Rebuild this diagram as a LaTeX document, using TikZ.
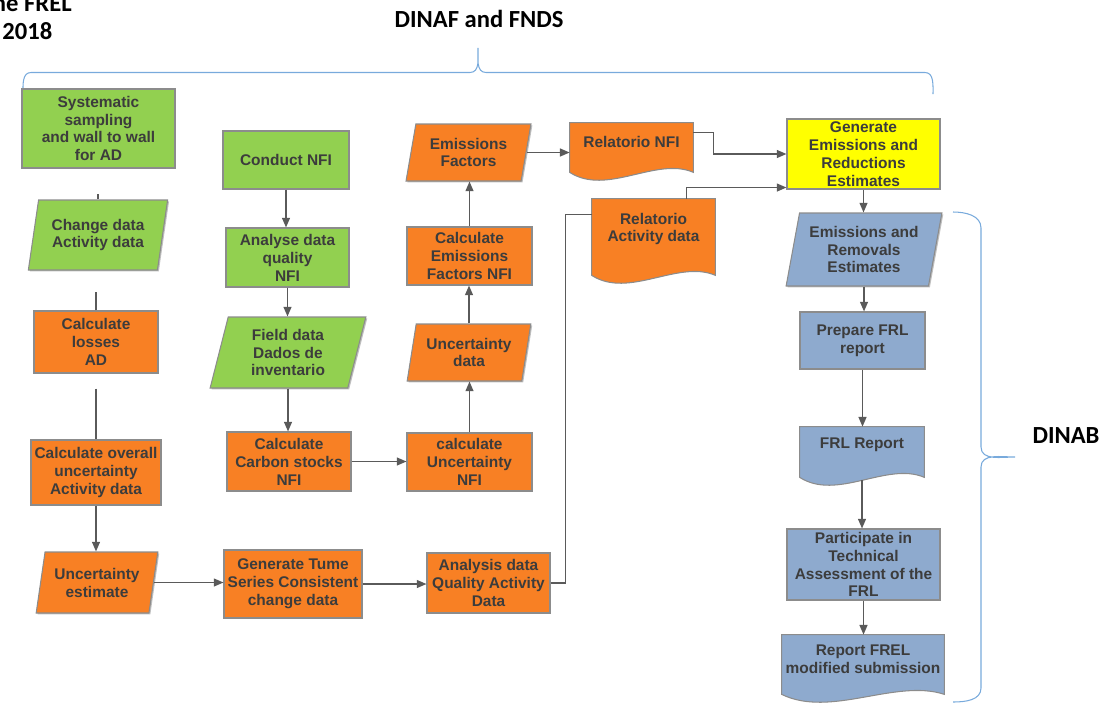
\documentclass[tikz,border=0pt]{standalone}
\usepackage{fontspec}
\setmainfont{Liberation Sans}
\newfontfamily\headfont{Carlito}
\usepackage{tikz}
\usetikzlibrary{shapes.geometric}
\usetikzlibrary{arrows.meta}
\usetikzlibrary{calc}
\usetikzlibrary{shadows}
\usetikzlibrary{backgrounds}
\definecolor{frgreen}{RGB}{146,208,80}
\definecolor{frorange}{RGB}{248,128,36}
\definecolor{fryellow}{RGB}{255,255,0}
\definecolor{frblue}{RGB}{142,170,206}
\definecolor{boxgray}{RGB}{140,140,140}
\definecolor{linegray}{RGB}{90,90,90}
\definecolor{txtgray}{RGB}{60,60,60}
\definecolor{bracblue}{RGB}{120,170,220}
\newcommand{\flowfont}{\fontsize{8.8}{10.2}\selectfont\bfseries}
\newcommand{\docshape}[3]{\filldraw[boxline,fill=#2] (#1.north west) -- (#1.north east) -- ($(#1.south east)+(0,#3)$) .. controls ($(#1.south east)!0.3!(#1.south west)+(0,#3-16)$) and ($(#1.south east)!0.7!(#1.south west)+(0,#3+24)$) .. ($(#1.south west)+(0,#3)$) -- cycle;}

\begin{document}
\begin{tikzpicture}[x=0.02cm,y=-0.02cm,
  boxline/.style={draw=boxgray,line width=0.6pt},
  box/.style={boxline,align=center,font=\flowfont,text=txtgray,inner sep=1pt,
    drop shadow={shadow xshift=0.8pt,shadow yshift=-0.8pt,opacity=0.25,fill=black}},
  proc/.style={box,rectangle},
  data/.style={box,trapezium,trapezium left angle=77,trapezium right angle=103,trapezium stretches=true},
  docu/.style={align=center,font=\flowfont,text=txtgray,inner sep=1pt},
  dim/.style 2 args={minimum width=#1*0.02cm,minimum height=#2*0.02cm},
  flow/.style={draw=linegray,line width=0.85pt,-{Triangle[length=5.5pt,width=4.5pt]}},
  link/.style={draw=linegray,line width=0.85pt},
  brc/.style={draw=bracblue,line width=0.6pt},
  head/.style={font=\headfont\bfseries\fontsize{14}{16}\selectfont,inner sep=0pt}]
\useasboundingbox (0,0) rectangle (1118,707);

\node[head,anchor=base east] (frel) at (72,11) {the FREL};
\node[head,anchor=base west] (year) at (2,39) {2018};
\node[head,anchor=base] (dinaf) at (479,27) {DINAF and FNDS};
\node[head,anchor=base] (dinab) at (1066,443) {DINAB};

\draw[brc] (23,94) to[out=90,in=180] (31,72.5) -- (470,72.5) to[out=0,in=-90] (478,48) to[out=-90,in=180] (486,72.5) -- (925,72.5) to[out=0,in=90] (933,94);
\draw[brc] (953,212) to[out=0,in=90] (981,228) -- (981,447) to[out=-90,in=180] (1015,457) to[out=180,in=90] (981,467) -- (981,688) to[out=-90,in=0] (953,702);

% activity data
\node[proc,fill=frgreen,dim={153}{79}] (sys) at (98.5,128.5) {Systematic\\sampling\\and wall to wall\\for AD};
\node[data,fill=frgreen,dim={140}{70}] (chg) at (98,235) {Change data\\Activity data};
\node[proc,fill=frorange,dim={124}{62}] (los) at (96,342) {Calculate\\losses\\AD};
\node[proc,fill=frorange,dim={130}{65}] (ovr) at (96,472.5) {Calculate overall\\uncertainty\\Activity data};
\node[data,fill=frorange,dim={122}{61}] (unc) at (97,582.5) {Uncertainty\\estimate};
\node[proc,fill=frorange,dim={138}{68}] (tim) at (293,584) {Generate Tume\\Series Consistent\\change data};
\node[proc,fill=frorange,dim={123}{60}] (aqd) at (488.5,583) {Analysis data\\Quality Activity\\Data};

% NFI
\node[proc,fill=frgreen,dim={126}{58}] (cnd) at (286,160) {Conduct NFI};
\node[proc,fill=frgreen,dim={123}{59}] (ana) at (287.5,257.5) {Analyse data\\quality\\NFI};
\node[data,fill=frgreen,dim={156}{71}] (fld) at (288,352.5) {Field data\\Dados de\\inventario};
\node[proc,fill=frorange,dim={124}{59}] (cst) at (289,461.5) {Calculate\\Carbon stocks\\NFI};
\node[proc,fill=frorange,dim={125}{58}] (unf) at (469.5,462) {calculate\\Uncertainty\\NFI};
\node[data,fill=frorange,dim={124}{57}] (und) at (469,352.5) {Uncertainty\\data};
\node[proc,fill=frorange,dim={125}{58}] (cef) at (469.5,256) {Calculate\\Emissions\\Factors NFI};
\node[data,fill=frorange,dim={125}{57}] (emf) at (468.5,152.5) {Emissions\\Factors};
\node[docu,dim={123}{38}] (rnf) at (631.5,142) {Relatorio NFI};
\node[docu,dim={123}{60}] (rad) at (653.5,229) {Relatorio\\Activity data};

% DINAB
\node[proc,fill=fryellow,dim={153}{70}] (gen) at (863.5,154) {Generate\\Emissions and\\Reductions\\Estimates};
\node[data,fill=frblue,dim={156}{73}] (err) at (864,249.5) {Emissions and\\Removals\\Estimates};
\node[proc,fill=frblue,dim={125}{57}] (prp) at (862.5,340.5) {Prepare FRL\\report};
\node[docu,dim={124}{36}] (frl) at (862,445) {FRL Report};
\node[proc,fill=frblue,dim={153}{71}] (tec) at (863.5,564.5) {Participate in\\Technical\\Assessment of the\\FRL};
\node[docu,dim={162}{49}] (rep) at (863,659.5) {Report FREL\\modified submission};

\begin{pgfonlayer}{background}
\docshape{rnf}{frorange}{11}
\docshape{rad}{frorange}{16}
\docshape{frl}{frblue}{14}
\docshape{rep}{frblue}{10}
\end{pgfonlayer}

\draw[link] (chg.north) -- ++(0,-5);
\draw[link] (los.north) -- ++(0,-18);
\draw[link] ($(los.south)+(0,15)$) -- (ovr.north);
\draw[flow] (ovr.south) -- (ovr.south |- unc.north);
\draw[flow] (unc.east) -- (unc.east -| tim.west);
\draw[flow] (tim.east) -- (tim.east -| aqd.west);
\draw[link] (aqd.east) -- ++(15,0) |- ($(rad.north west)+(0,16)$);
\draw[flow] ($(rad.north west)+(95,0)$) |- ($(gen.south west)+(0,-2)$);
\draw[flow] ($(rnf.north east)+(0,10)$) -- ++(20,0) |- (gen.west);
\draw[flow] (emf.east) -- (emf.east -| rnf.west);
\draw[flow] (cnd.south) -- (cnd.south |- ana.north);
\draw[flow] (ana.south) -- (ana.south |- fld.north);
\draw[flow] (fld.south) -- (fld.south |- cst.north);
\draw[flow] (cst.east) -- (cst.east -| unf.west);
\draw[flow] (unf.north) -- (unf.north |- und.south);
\draw[flow] (und.north) -- (und.north |- cef.south);
\draw[flow] (cef.north) -- (cef.north |- emf.south);
\draw[flow] (gen.south) -- (gen.south |- err.north);
\draw[flow] (err.south) -- (err.south |- prp.north);
\draw[flow] (prp.south) -- (prp.south |- frl.north);
\draw[flow] ($(frl.south)+(0,17)$) -- (frl.south |- tec.north);
\draw[flow] (tec.south) -- (tec.south |- rep.north);

\end{tikzpicture}
\end{document}
